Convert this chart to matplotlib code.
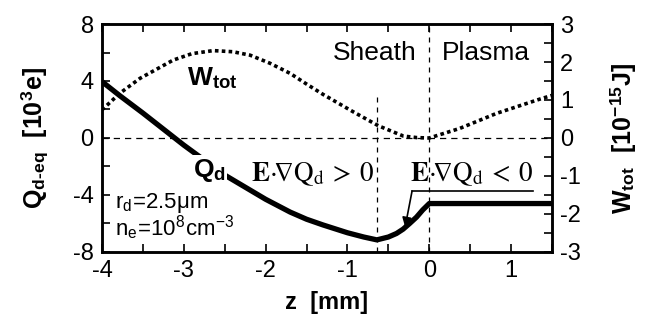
import matplotlib
matplotlib.use("Agg")
import matplotlib.pyplot as plt
from matplotlib.ticker import MultipleLocator

plt.rcParams['font.family'] = ['Liberation Sans', 'DejaVu Sans']
plt.rcParams['mathtext.fontset'] = 'stix'
plt.rcParams['axes.unicode_minus'] = False

# Q_d-eq curve (left axis, 10^3 e)
q_z = [-4.0, -3.78, -3.5, -3.0, -2.5, -2.0, -1.7, -1.5, -1.3, -1.0, -0.8, -0.64,
       -0.5, -0.4, -0.32, -0.24, -0.155, -0.08, 0.0, 1.5]
q_val = [3.96, 2.96, 1.75, -0.5, -2.6, -4.3, -5.2, -5.7, -6.1, -6.65, -6.95, -7.15,
         -6.95, -6.7, -6.4, -6.0, -5.55, -5.05, -4.6, -4.6]

# W_tot curve (right axis, 10^-15 J)
w_z = [-4.0, -3.78, -3.535, -3.13, -2.9, -2.64, -2.4, -2.19, -1.95, -1.7, -1.5, -1.3,
       -0.93, -0.62, -0.315, -0.15, 0.0, 0.37, 0.825, 1.375, 1.5]
w_val = [0.74, 1.18, 1.57, 2.05, 2.22, 2.30, 2.27, 2.18, 1.97, 1.70, 1.42, 1.15,
         0.69, 0.32, 0.05, 0.01, 0.0, 0.25, 0.65, 1.04, 1.12]

x_ticks = [-4, -3, -2, -1, 0, 1]
q_ticks = [-8, -4, 0, 4, 8]
w_ticks = [-3, -2, -1, 0, 1, 2, 3]

fig = plt.figure(figsize=(6.52, 3.32), dpi=100)
ax = fig.add_axes([0.1564, 0.241, 0.6902, 0.6867])
ax2 = ax.twinx()

ax.set_xlim(-4, 1.5)
ax.set_ylim(-8, 8)
ax2.set_ylim(-3, 3)

# reference lines
ax.axhline(0, color='black', lw=0.9, ls=(0, (5, 4)), zorder=1)
ax.plot([0, 0], [-8, 8], color='black', lw=0.9, ls=(0, (4, 4)), zorder=1)
ax.plot([-0.64, -0.64], [-8, 3.2], color='black', lw=0.9, ls=(0, (4, 4)), zorder=1)

# curves
ax.plot(q_z, q_val, color='black', lw=3.8, solid_capstyle='butt', zorder=3)
ax2.plot(w_z, w_val, color='black', lw=2.6, ls=(0, (1, 0.9)),
         dash_capstyle='butt', zorder=3)

# ticks
for a in (ax, ax2):
    a.tick_params(direction='in', length=6, width=1.2, labelsize=17, pad=6)
    a.tick_params(which='minor', direction='in', length=6, width=1.2)
ax.xaxis.set_minor_locator(MultipleLocator(0.5))
ax.set_xticks(x_ticks)
ax.set_yticks(q_ticks)
ax.yaxis.set_minor_locator(MultipleLocator(2))
ax2.set_yticks(w_ticks)
ax2.yaxis.set_minor_locator(MultipleLocator(0.5))
ax.tick_params(top=True, which='both')
for sp in ax.spines.values():
    sp.set_linewidth(1.8)
for sp in ax2.spines.values():
    sp.set_linewidth(1.8)

ax.set_xlabel('z  [mm]', fontsize=17, fontweight='bold', labelpad=6)
ax.set_ylabel('Q$_{\\mathregular{d\u2010eq}}$  [10$^{\\mathregular{3}}$e]',
              fontsize=18, fontweight='bold', labelpad=16)
ax2.set_ylabel('W$_{\\mathregular{tot}}$  [10$^{\\mathregular{-15}}$J]',
               fontsize=18, fontweight='bold', labelpad=20)

# annotations
ax.text(-0.15, 5.96, 'Sheath', fontsize=19, ha='right', va='center', zorder=5)
ax.text(0.155, 5.96, 'Plasma', fontsize=19, ha='left', va='center', zorder=5)
ax.text(-2.96, 4.2, 'W$_{\\mathregular{tot}}$', fontsize=19, fontweight='bold',
        ha='left', va='center', zorder=5)
ax.text(-2.89, -2.25, 'Q$_{\\mathregular{d}}$', fontsize=19, fontweight='bold',
        ha='left', va='center', zorder=5,
        bbox=dict(facecolor='white', edgecolor='none', pad=1))
ax.text(-1.42, -2.55, r'$\mathbf{E}{\cdot}\!\nabla\mathrm{Q_d}\:>\:0$', fontsize=19.5,
        ha='center', va='center', zorder=5)
ax.text(0.52, -2.55, r'$\mathbf{E}{\cdot}\!\nabla\mathrm{Q_d}\:<\:0$', fontsize=19.5,
        ha='center', va='center', zorder=5)
ax.plot([-0.21, 1.27], [-3.72, -3.72], color='black', lw=1.2, zorder=4)
ax.annotate('', xy=(-0.295, -6.25), xytext=(-0.21, -3.72),
            arrowprops=dict(arrowstyle='-|>', color='black', lw=1.2,
                            mutation_scale=14, shrinkA=0, shrinkB=0), zorder=4)
ax.text(-3.84, -4.56, 'r$_{\\mathregular{d}}$=2.5\u03bcm', fontsize=16,
        ha='left', va='center', zorder=5)
ax.text(-3.84, -6.3, 'n$_{\\mathregular{e}}$=10$^{\\mathregular{8}}$cm$^{\\mathregular{-3}}$',
        fontsize=16, ha='left', va='center', zorder=5)

fig.savefig('out.png', dpi=100)
